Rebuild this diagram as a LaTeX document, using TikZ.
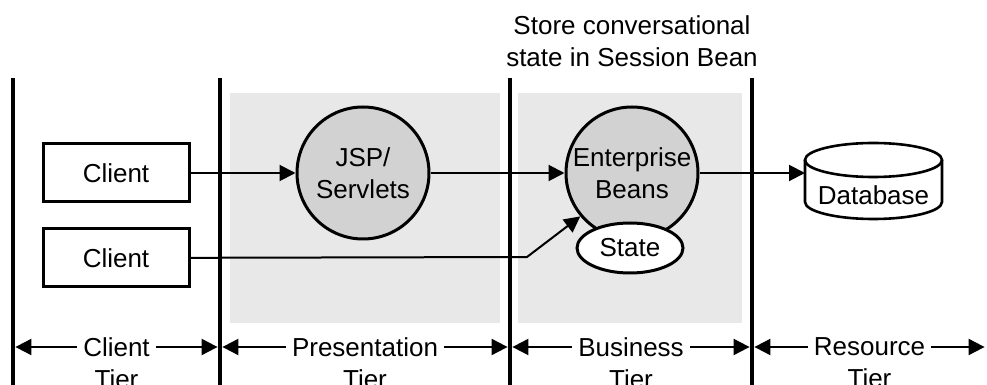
\documentclass[tikz,border=0pt]{standalone}
\usepackage{fontspec}
\setmainfont{Liberation Sans}
\setsansfont{Liberation Sans}
\usetikzlibrary{arrows.meta,positioning,shapes.geometric}

\begin{document}
\begin{tikzpicture}[>={Triangle[length=8pt,width=8pt]},font=\sffamily\fontsize{13}{16}\selectfont,x=0.5pt,y=-0.5pt]
            % Define the styles for the blocks
            \tikzstyle{tierline} = [line width=2.4pt]
            \tikzstyle{client} = [rectangle, draw, line width=1.5pt, minimum width=73pt, minimum height=29pt]
            \tikzstyle{comp} = [circle, draw, line width=1.5pt, fill=gray!35, minimum size=66pt, inner sep=0pt, align=center]
            \tikzstyle{flow} = [->, line width=1pt]
            \tikzstyle{tier} = [<->, line width=1pt, shorten <=1.2pt, shorten >=1.2pt]
            \tikzstyle{tierlabel} = [fill=white, align=center, inner xsep=3pt, yshift=-8pt]

            \useasboundingbox (0,0) rectangle (987,385);

            % Shaded tiers
            \fill[gray!18] (230,93) rectangle (500,323);
            \fill[gray!18] (518,93) rectangle (742,323);

            % Tier boundaries
            \foreach \i/\x in {0/13,1/220,2/510,3/752} {
                \coordinate (top\i) at (\x,78);
                \coordinate (bot\i) at (\x,385);
                \coordinate (t\i) at (\x,347);
                \draw[tierline] (top\i) -- (bot\i);
            }
            \coordinate (tend) at (987,347);

            % Database drum
            \draw[line width=1.3pt, fill=white] (805,160) -- (805,202) arc[start angle=180, end angle=360, x radius=34.25pt, y radius=8.5pt] -- (942,160);
            \draw[line width=1.3pt] (873.5,160) ellipse [x radius=34.25pt, y radius=8.5pt];
            \coordinate (dbside) at (805,173);

            % Nodes position
            \node [client] (client1) at (116,173) {Client};
            \node [client, below=12pt of client1] (client2) {Client};
            \node [comp] (jsp) at (363,173) {JSP/\\Servlets};
            \node [comp] (beans) at (632,173) {Enterprise\\Beans};
            \node [ellipse, draw, fill=white, line width=1.5pt, minimum width=53pt, minimum height=25pt] (state) at (630,248) {State};
            \node (db) at (873.5,195) {Database};
            \node [align=center] (note) at (632,41) {Store conversational\\state in Session Bean};
            \coordinate (bend) at (527,257);

            % Arrows
            \draw[flow] (client1) -- (jsp);
            \draw[flow] (jsp) -- (beans);
            \draw[flow] (beans.east) -- (dbside);
            \draw[flow] (client2) -- (bend) -- (beans.220);

            % Tier labels
            \draw[tier] (t0) -- (t1) node[midway, tierlabel] {Client\\Tier};
            \draw[tier] (t1) -- (t2) node[midway, tierlabel] {Presentation\\Tier};
            \draw[tier] (t2) -- (t3) node[midway, tierlabel] {Business\\Tier};
            \draw[tier] (t3) -- (tend) node[midway, tierlabel] {Resource\\Tier};
        \end{tikzpicture}
\end{document}
